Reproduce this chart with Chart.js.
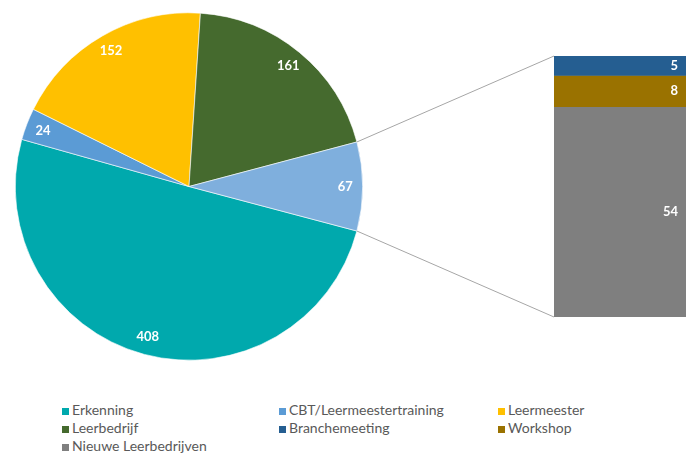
<!DOCTYPE html>
<html>
<head>
<meta charset="utf-8">
<script src="https://cdn.jsdelivr.net/npm/chart.js@4.4.0/dist/chart.umd.min.js"></script>
<style>
    body { margin: 0; background: #fff; }
    #wrap { position: relative; width: 690px; height: 453px; overflow: hidden; font-family: Lato, sans-serif; }
    #taart { position: absolute; left: 0; top: 0; }
    #staaf { position: absolute; left: 340px; top: 0; }
    #legenda { position: absolute; left: 62px; top: 401px; display: grid; grid-template-columns: 217px 219px 170px; font-size: 14px; color: #595959; }
    .item { height: 18px; line-height: 18px; white-space: nowrap; }
    .item span { display: inline-block; width: 7px; height: 7px; margin-right: 3px; vertical-align: 0px; }
</style>
</head>
<body>
<div id="wrap">
    <canvas id="taart" width="380" height="375"></canvas>
    <canvas id="staaf" width="350" height="340"></canvas>
    <div id="legenda"></div>
</div>
<script>
// Taart: de losse categorieen, het restdeel komt uit de staaf
const taartLabels = ['Erkenning', 'CBT/Leermeestertraining', 'Leermeester', 'Leerbedrijf'];
const taartWaardes = [408, 24, 152, 161];
const taartKleuren = ['#00A9AD', '#5B9BD5', '#FFC000', '#456A2E'];
const overigKleur = '#7FAFDD';

// Staaf: uitsplitsing van het restdeel (van boven naar beneden)
const staafLabels = ['Branchemeeting', 'Workshop', 'Nieuwe Leerbedrijven'];
const staafWaardes = [5, 8, 54];
const staafKleuren = ['#255E91', '#9A7200', '#7F7F7F'];

const overig = staafWaardes.reduce((a, b) => a + b, 0);
const totaal = taartWaardes.reduce((a, b) => a + b, 0) + overig;

let taartGrafiek;
let staafGrafiek;

//Witte getallen in de taartpunten
const taartWaardePlugin = {
    id: 'taartWaardes',
    afterDatasetsDraw(chart) {
        const ctx = chart.ctx;
        const data = chart.data.datasets[0].data;
        ctx.save();
        ctx.fillStyle = '#fff';
        ctx.font = 'bold 13px Lato';
        ctx.textAlign = 'center';
        ctx.textBaseline = 'middle';
        chart.getDatasetMeta(0).data.forEach(function (arc, i) {
            const hoek = (arc.startAngle + arc.endAngle) / 2;
            const r = arc.outerRadius * 0.9;
            ctx.fillText(data[i], arc.x + r * Math.cos(hoek), arc.y + r * Math.sin(hoek));
        });
        ctx.restore();
    }
};

//Getallen in de staaf plus de verbindingslijnen naar de taart
const staafWaardePlugin = {
    id: 'staafWaardes',
    afterDatasetsDraw(chart) {
        const ctx = chart.ctx;
        ctx.save();
        ctx.fillStyle = '#fff';
        ctx.font = 'bold 13px Lato';
        ctx.textAlign = 'right';
        ctx.textBaseline = 'middle';
        chart.data.datasets.forEach(function (ds, i) {
            const el = chart.getDatasetMeta(i).data[0];
            ctx.fillText(ds.data[0], el.x + el.width / 2 - 8, (el.y + el.base) / 2);
        });

        // lijnen van de rand van het restdeel naar de hoeken van de staaf
        const arcs = taartGrafiek.getDatasetMeta(0).data;
        const arc = arcs[arcs.length - 1];
        const el = chart.getDatasetMeta(0).data[0];
        const links = el.x - el.width / 2;
        const dx = taartGrafiek.canvas.offsetLeft - chart.canvas.offsetLeft;
        const dy = taartGrafiek.canvas.offsetTop - chart.canvas.offsetTop;
        const punt = function (a) {
            return [arc.x + arc.outerRadius * Math.cos(a) + dx, arc.y + arc.outerRadius * Math.sin(a) + dy];
        };
        const boven = punt(arc.startAngle);
        const onder = punt(arc.endAngle);
        ctx.strokeStyle = '#A6A6A6';
        ctx.lineWidth = 1;
        ctx.beginPath();
        ctx.moveTo(boven[0], boven[1]);
        ctx.lineTo(links, chart.chartArea.top);
        ctx.moveTo(onder[0], onder[1]);
        ctx.lineTo(links, chart.chartArea.bottom);
        ctx.stroke();
        ctx.restore();
    }
};

function maakTaart() {
    const ctx = document.getElementById('taart').getContext('2d');
    taartGrafiek = new Chart(ctx, {
        type: 'pie',
        data: {
            labels: taartLabels.concat(['Overig']),
            datasets: [{
                data: taartWaardes.concat([overig]),
                backgroundColor: taartKleuren.concat([overigKleur]),
                borderColor: '#fff',
                borderWidth: 0.6
            }]
        },
        options: {
            responsive: false,
            animation: false,
            rotation: 90 + 180 * overig / totaal,
            layout: { padding: { left: 15, right: 17, top: 12, bottom: 14 } },
            plugins: { legend: { display: false }, tooltip: { enabled: false } }
        },
        plugins: [taartWaardePlugin]
    });
}

function maakStaaf() {
    const ctx = document.getElementById('staaf').getContext('2d');
    staafGrafiek = new Chart(ctx, {
        type: 'bar',
        data: {
            labels: [''],
            datasets: staafLabels.map(function (label, i) {
                return {
                    label: label,
                    data: [staafWaardes[i]],
                    backgroundColor: staafKleuren[i],
                    barPercentage: 1,
                    categoryPercentage: 1
                };
            })
        },
        options: {
            responsive: false,
            animation: false,
            layout: { padding: { left: 214, right: 4, top: 56, bottom: 23 } },
            scales: {
                x: { display: false, stacked: true },
                y: { display: false, stacked: true, reverse: true, min: 0, max: overig }
            },
            plugins: { legend: { display: false }, tooltip: { enabled: false } }
        },
        plugins: [staafWaardePlugin]
    });
}

function maakLegenda() {
    const namen = taartLabels.concat(staafLabels);
    const kleuren = taartKleuren.concat(staafKleuren);
    const html = namen.map(function (naam, i) {
        return '<div class="item"><span style="background:' + kleuren[i] + '"></span>' + naam + '</div>';
    }).join('');
    document.getElementById('legenda').innerHTML = html;
}

maakTaart();
maakStaaf();
maakLegenda();
</script>
</body>
</html>
